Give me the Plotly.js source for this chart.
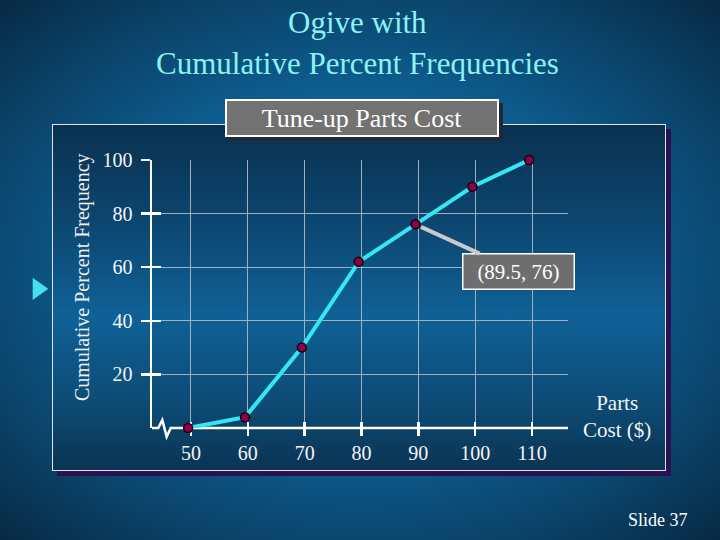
<!DOCTYPE html>
<html>
<head>
<meta charset="utf-8">
<script src="https://cdn.plot.ly/plotly-3.0.1.min.js"></script>
<style>
  html, body { margin: 0; padding: 0; }
  #stage {
    position: relative; width: 720px; height: 540px; overflow: hidden;
    background: radial-gradient(ellipse 72% 68% at 50% 50%, #1277b0 0%, #0e6196 45%, #0a4268 78%, #072b45 100%);
  }
  #panel {
    position: absolute; left: 52px; top: 124px; width: 614px; height: 347px;
    box-sizing: border-box; border: 1.5px solid #dde6ee;
    background: linear-gradient(to bottom, #0a3150 0%, #0c4670 28%, #0f6196 55%, #0d4c76 80%, #0a3454 100%);
    box-shadow: 5px 5px 0 #2b1052;
  }
  #chart { position: absolute; left: 0; top: 0; width: 720px; height: 540px; }
</style>
</head>
<body>
<div id="stage">
  <div id="panel"></div>
  <div id="chart"></div>
</div>
<script>
// ---- data ----
var cost = [49.5, 59.5, 69.5, 79.5, 89.5, 99.5, 109.5];
var cumPct = [0, 4, 30, 62, 76, 90, 100];
var xTicks = [50, 60, 70, 80, 90, 100, 110];
var xTickText = ['50', '60', '70', '80', '90', '100', '110'];
var yTicks = [20, 40, 60, 80, 100];
var yTickText = ['20', '40', '60', '80', '100'];
var calloutIndex = 4;

var serif = 'Liberation Serif, Times New Roman, serif';
var xRange = [43.14, 116.33];
var yRange = [0, 100];

var traces = [
  {
    x: cost, y: cumPct, type: 'scatter', mode: 'lines+markers',
    line: { color: '#33e8f2', width: 4 },
    marker: { color: '#8c0046', size: 9, line: { color: '#1a0010', width: 1.5 } },
    cliponaxis: false, hoverinfo: 'x+y', showlegend: false
  },
  {
    x: cost, y: cumPct, type: 'scatter', mode: 'lines', xaxis: 'x2', yaxis: 'y2',
    line: { color: 'rgba(0,0,0,0)', width: 0 }, hoverinfo: 'skip', showlegend: false
  }
];

function paperNote(x, y, text, extra) {
  var a = { xref: 'paper', yref: 'paper', x: x, y: y, xanchor: 'center', yanchor: 'middle',
            text: text, showarrow: false };
  for (var k in extra) a[k] = extra[k];
  return a;
}

var layout = {
  width: 720, height: 540,
  margin: { l: 152, r: 152, t: 160, b: 112 },
  paper_bgcolor: 'rgba(0,0,0,0)',
  plot_bgcolor: 'rgba(0,0,0,0)',
  showlegend: false,
  xaxis: {
    range: xRange, tickmode: 'array', tickvals: xTicks, ticktext: xTickText,
    ticks: 'outside', ticklen: 7, tickwidth: 2.5, tickcolor: '#ffffff',
    showgrid: true, gridcolor: '#9fb0c0', gridwidth: 1,
    showline: false, zeroline: false, layer: 'below traces',
    tickfont: { family: serif, size: 20, color: '#f4f4f4' },
    fixedrange: true
  },
  yaxis: {
    range: yRange, tickmode: 'array', tickvals: yTicks, ticktext: yTickText,
    ticks: 'outside', ticklen: 9, tickwidth: 2.5, tickcolor: '#ffffff',
    showgrid: true, gridcolor: '#9fb0c0', gridwidth: 1,
    showline: true, linecolor: '#ffffff', linewidth: 2.5, zeroline: false,
    tickfont: { family: serif, size: 20, color: '#f4f4f4' },
    ticklabelstandoff: 4,
    fixedrange: true
  },
  xaxis2: {
    range: xRange, overlaying: 'x', anchor: 'y', side: 'bottom',
    tickmode: 'array', tickvals: xTicks, layer: 'below traces',
    ticks: 'inside', ticklen: 6, tickwidth: 2.5, tickcolor: '#ffffff',
    showticklabels: false, showgrid: false, zeroline: false, showline: false,
    fixedrange: true
  },
  yaxis2: {
    range: yRange, overlaying: 'y', anchor: 'x', side: 'left',
    tickmode: 'array', tickvals: yTicks,
    ticks: 'inside', ticklen: 9, tickwidth: 2.5, tickcolor: '#ffffff',
    showticklabels: false, showgrid: false, zeroline: false, showline: false,
    fixedrange: true
  },
  shapes: [
    // x axis line with break symbol
    {
      type: 'path', xref: 'paper', yref: 'paper', layer: 'below',
      path: 'M 0 0 L 0.0151 0 L 0.0248 0.0299 L 0.0353 -0.0325 L 0.0450 0 L 1 0',
      line: { color: '#ffffff', width: 2.5 }
    },
    // slide bullet triangle
    {
      type: 'path', xref: 'paper', yref: 'paper',
      path: 'M -0.2868 0.5608 L -0.2868 0.4776 L -0.2493 0.5194 Z',
      fillcolor: '#45dff0', line: { width: 0 }
    }
  ],
  annotations: [
    // slide title (two lines)
    paperNote(0.4928, 1.512, 'Ogive with', { font: { family: serif, size: 31, color: '#8cf2f2' } }),
    paperNote(0.4928, 1.359, 'Cumulative Percent Frequencies', { font: { family: serif, size: 31, color: '#8cf2f2' } }),
    // title box shadow
    paperNote(0.5048, 1.1549, ' ', { xshift: 4, yshift: -4, width: 268, height: 32, borderpad: 1,
      bgcolor: '#1e2a36', borderwidth: 2, bordercolor: '#1e2a36' }),
    paperNote(0.5048, 1.1549, 'Tune-up Parts Cost', { width: 268, height: 32, borderpad: 1,
      bgcolor: '#727272', borderwidth: 2, bordercolor: '#ffffff',
      font: { family: serif, size: 26, color: '#ffffff' } }),
    // y axis title
    paperNote(-0.1683, 0.563, 'Cumulative Percent Frequency', { textangle: -90,
      font: { family: serif, size: 20, color: '#f0f0f0' } }),
    // x axis title
    paperNote(1.1178, 0.043, 'Parts<br>Cost ($)', { font: { family: serif, size: 21, color: '#f4f4f4' } }),
    // callout
    {
      x: cost[calloutIndex], y: cumPct[calloutIndex], xref: 'x', yref: 'y',
      text: '(' + cost[calloutIndex] + ', ' + cumPct[calloutIndex] + ')',
      showarrow: true, arrowhead: 0, arrowwidth: 4, arrowcolor: '#c9c9c9',
      ax: 103, ay: 47, standoff: 6,
      width: 108, height: 32, borderpad: 1, borderwidth: 1.5,
      bgcolor: '#6e6e6e', bordercolor: '#ffffff',
      font: { family: serif, size: 21, color: '#ffffff' }
    },
    // slide number
    paperNote(1.2163, -0.3433, 'Slide 37', { font: { family: serif, size: 18, color: '#ffffff' } })
  ]
};

Plotly.newPlot('chart', traces, layout, { displayModeBar: false, staticPlot: true });
</script>
</body>
</html>
